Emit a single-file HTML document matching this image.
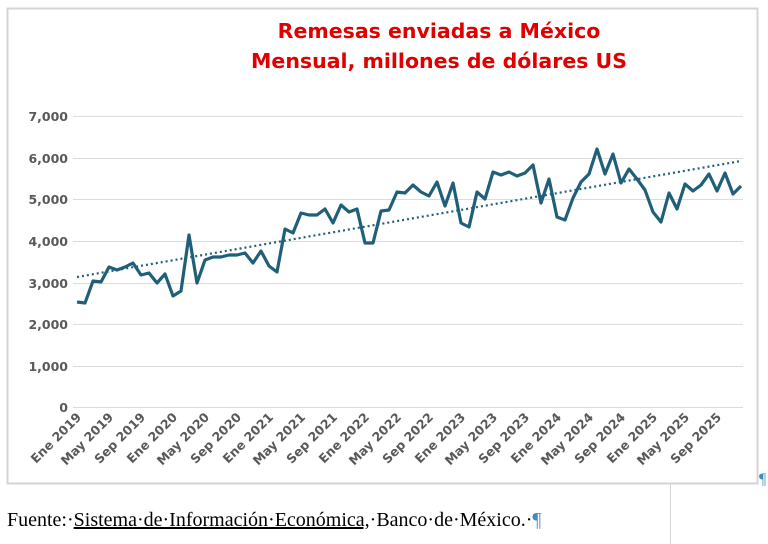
<!DOCTYPE html>
<html><head><meta charset="utf-8"><style>
body{margin:0;background:#fff;width:768px;height:544px;overflow:hidden;position:relative}
</style></head><body>
<svg width="768" height="544" style="position:absolute;left:0;top:0" xmlns="http://www.w3.org/2000/svg">
<rect x="7.5" y="8.5" width="750" height="475" fill="#fff" stroke="#d4d4d4" stroke-width="2"/>
<line x1="670.5" y1="484" x2="670.5" y2="544" stroke="#d4d4d4" stroke-width="1"/>
<g font-family="DejaVu Sans, sans-serif" font-weight="bold" fill="#e00000" font-size="20.5" text-anchor="middle">
<text x="439" y="38">Remesas enviadas a México</text>
<text x="439" y="68">Mensual, millones de dólares US</text>
</g>
<g stroke="#dcdcdc" stroke-width="1">
<line x1="73" x2="743" y1="116.5" y2="116.5"/><line x1="73" x2="743" y1="158.5" y2="158.5"/>
<line x1="73" x2="743" y1="199.5" y2="199.5"/><line x1="73" x2="743" y1="241.5" y2="241.5"/>
<line x1="73" x2="743" y1="283.5" y2="283.5"/><line x1="73" x2="743" y1="324.5" y2="324.5"/>
<line x1="73" x2="743" y1="366.5" y2="366.5"/><line x1="73" x2="743" y1="407.5" y2="407.5"/>
</g>
<g font-family="DejaVu Sans, sans-serif" font-weight="bold" fill="#595959" font-size="12.5" text-anchor="end">
<text x="68" y="121">7,000</text><text x="68" y="163">6,000</text><text x="68" y="204">5,000</text>
<text x="68" y="246">4,000</text><text x="68" y="288">3,000</text><text x="68" y="329">2,000</text>
<text x="68" y="371">1,000</text><text x="68" y="412">0</text>
</g>
<g font-family="DejaVu Sans, sans-serif" font-weight="bold" fill="#595959" font-size="12.5" text-anchor="end">
<text transform="translate(82,418) rotate(-45)">Ene 2019</text>
<text transform="translate(114,418) rotate(-45)">May 2019</text>
<text transform="translate(146,418) rotate(-45)">Sep 2019</text>
<text transform="translate(178,418) rotate(-45)">Ene 2020</text>
<text transform="translate(210,418) rotate(-45)">May 2020</text>
<text transform="translate(242,418) rotate(-45)">Sep 2020</text>
<text transform="translate(274,418) rotate(-45)">Ene 2021</text>
<text transform="translate(306,418) rotate(-45)">May 2021</text>
<text transform="translate(338,418) rotate(-45)">Sep 2021</text>
<text transform="translate(370,418) rotate(-45)">Ene 2022</text>
<text transform="translate(402,418) rotate(-45)">May 2022</text>
<text transform="translate(434,418) rotate(-45)">Sep 2022</text>
<text transform="translate(466,418) rotate(-45)">Ene 2023</text>
<text transform="translate(498,418) rotate(-45)">May 2023</text>
<text transform="translate(530,418) rotate(-45)">Sep 2023</text>
<text transform="translate(562,418) rotate(-45)">Ene 2024</text>
<text transform="translate(594,418) rotate(-45)">May 2024</text>
<text transform="translate(626,418) rotate(-45)">Sep 2024</text>
<text transform="translate(658,418) rotate(-45)">Ene 2025</text>
<text transform="translate(690,418) rotate(-45)">May 2025</text>
<text transform="translate(722,418) rotate(-45)">Sep 2025</text>
</g>
<line x1="77" y1="277" x2="741" y2="161" stroke="#1f5f7a" stroke-width="2.2" stroke-dasharray="2,3"/>
<polyline fill="none" stroke="#1f5f7a" stroke-width="3.2" stroke-linejoin="round" points="77,302 85,303 93,281 101,282 109,267 117,270 125,267 133,263 141,275 149,273 157,283 165,274 173,296 181,291 189,235 197,283 205,260 213,257 221,257 229,255 237,255 245,253 253,263 261,251 269,266 277,272 285,229 293,233 301,213 309,215 317,215 325,209 333,223 341,205 349,212 357,209 365,243 373,243 381,211 389,210 397,192 405,193 413,185 421,192 429,196 437,182 445,206 453,183 461,223 469,227 477,192 485,199 493,172 501,175 509,172 517,176 525,173 533,165 541,203 549,179 557,217 565,220 573,198 581,182 589,174 597,149 605,174 613,154 621,183 629,169 637,179 645,190 653,212 661,222 669,193 677,209 685,184 693,191 701,185 709,174 717,191 725,173 733,194 741,186"/>
<text x="759" y="484" font-family="Liberation Serif, serif" font-size="16" fill="#3a8fc0">¶</text>
</svg>
<div style="position:absolute;left:7px;top:509px;font-family:'Liberation Serif',serif;font-size:20px;color:#000;white-space:nowrap">Fuente:·<span style="text-decoration:underline">Sistema·de·Información·Económica,</span>·Banco·de·México.·<span style="color:#3a8fc0">¶</span></div>
</body></html>
